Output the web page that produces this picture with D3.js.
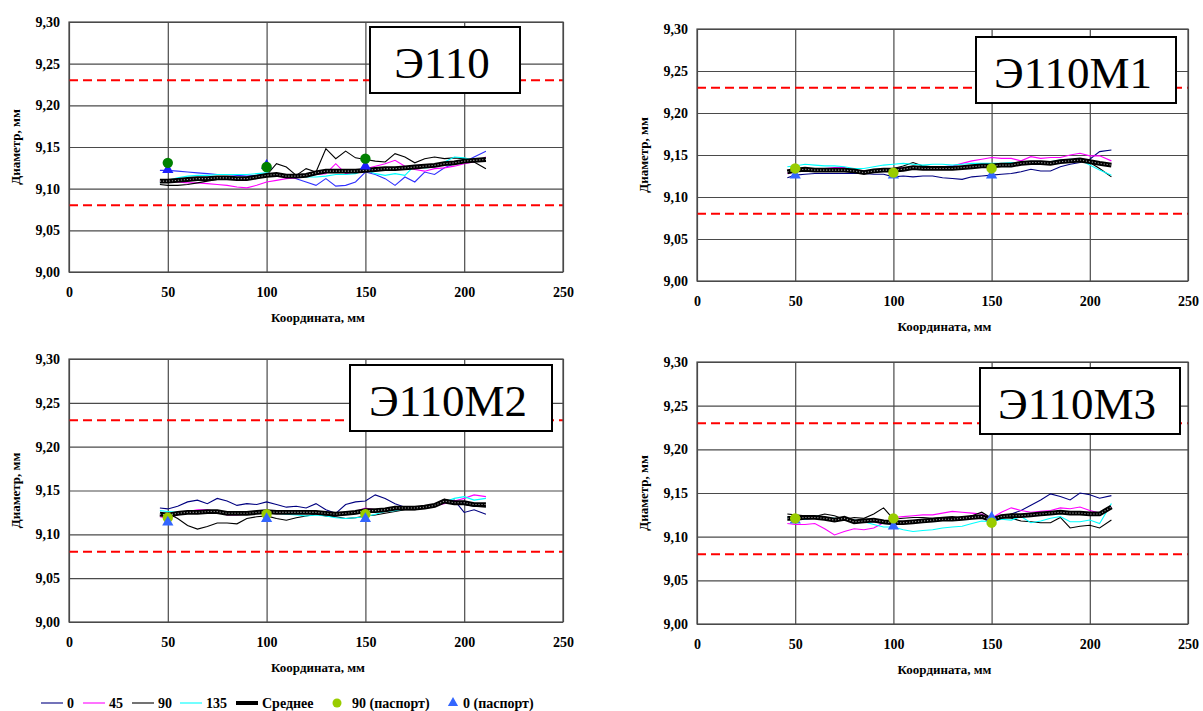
<html><head><meta charset="UTF-8"><script src="https://d3js.org/d3.v7.min.js"></script>
<style>
  svg text { font-family: 'Liberation Serif', 'Times New Roman', serif !important; }
</style>
</head>
<body style="margin:0">
<script>
// координаты, мм
const X = [46, 50, 55, 60, 65, 70, 75, 80, 85, 90, 95, 100, 105, 110, 115, 120, 125, 130,
           135, 140, 145, 150, 155, 160, 165, 170, 175, 180, 185, 190, 195, 200, 205, 211];
const X_TICKS = [0, 50, 100, 150, 200, 250];
const Y_TICKS = [9.00, 9.05, 9.10, 9.15, 9.20, 9.25, 9.30];
const LIMITS = [9.08, 9.23];
const PASS_X = [50, 100, 150];
const SERIES_NAMES = ["0", "45", "90", "135", "Среднее", "90 (паспорт)", "0 (паспорт)"];
const PANEL_NAMES = ["Э110", "Э110М1", "Э110М2", "Э110М3"];

// Э110
const e110_0 = [9.122, 9.122, 9.121, 9.120, 9.119, 9.118, 9.117, 9.117, 9.116, 9.115, 9.116, 9.118, 9.117, 9.116, 9.112, 9.108, 9.104, 9.112, 9.103, 9.104, 9.108, 9.120, 9.117, 9.112, 9.104, 9.114, 9.108, 9.120, 9.117, 9.125, 9.130, 9.132, 9.138, 9.145];
const e110_45 = [9.109, 9.109, 9.108, 9.107, 9.107, 9.106, 9.105, 9.104, 9.102, 9.101, 9.104, 9.108, 9.110, 9.112, 9.113, 9.115, 9.117, 9.118, 9.130, 9.118, 9.120, 9.124, 9.127, 9.130, 9.134, 9.127, 9.123, 9.121, 9.124, 9.125, 9.127, 9.130, 9.132, 9.138];
const e110_90 = [9.105, 9.104, 9.104, 9.105, 9.107, 9.109, 9.111, 9.112, 9.112, 9.113, 9.114, 9.116, 9.130, 9.126, 9.116, 9.124, 9.120, 9.148, 9.136, 9.145, 9.137, 9.135, 9.133, 9.132, 9.142, 9.138, 9.131, 9.136, 9.138, 9.136, 9.137, 9.136, 9.132, 9.124];
const e110_135 = [9.107, 9.110, 9.113, 9.115, 9.116, 9.116, 9.117, 9.117, 9.117, 9.117, 9.118, 9.119, 9.117, 9.115, 9.114, 9.114, 9.114, 9.115, 9.117, 9.117, 9.118, 9.122, 9.118, 9.116, 9.118, 9.116, 9.128, 9.125, 9.126, 9.132, 9.138, 9.137, 9.134, 9.136];
const e110_mean = [9.109, 9.109, 9.110, 9.111, 9.112, 9.112, 9.113, 9.113, 9.112, 9.112, 9.114, 9.116, 9.117, 9.115, 9.115, 9.116, 9.119, 9.121, 9.121, 9.121, 9.121, 9.122, 9.123, 9.124, 9.124, 9.125, 9.126, 9.127, 9.128, 9.130, 9.131, 9.133, 9.134, 9.135];
const e110_p90 = [9.131, 9.126, 9.136];
const e110_p0 = [9.124, 9.129, 9.128];

// Э110М1
const m1_0 = [9.123, 9.126, 9.127, 9.128, 9.128, 9.128, 9.128, 9.128, 9.128, 9.127, 9.127, 9.124, 9.125, 9.124, 9.125, 9.125, 9.123, 9.122, 9.121, 9.124, 9.125, 9.126, 9.127, 9.128, 9.130, 9.133, 9.131, 9.131, 9.136, 9.139, 9.141, 9.145, 9.154, 9.156];
const m1_45 = [9.128, 9.130, 9.132, 9.133, 9.134, 9.135, 9.135, 9.131, 9.131, 9.132, 9.133, 9.134, 9.135, 9.135, 9.136, 9.136, 9.136, 9.137, 9.140, 9.143, 9.145, 9.147, 9.146, 9.146, 9.143, 9.148, 9.146, 9.147, 9.147, 9.150, 9.152, 9.149, 9.149, 9.143];
const m1_90 = [9.131, 9.132, 9.133, 9.133, 9.132, 9.132, 9.131, 9.130, 9.130, 9.132, 9.133, 9.134, 9.137, 9.141, 9.137, 9.136, 9.135, 9.134, 9.136, 9.137, 9.138, 9.137, 9.138, 9.139, 9.140, 9.141, 9.141, 9.140, 9.142, 9.144, 9.143, 9.141, 9.134, 9.124];
const m1_135 = [9.136, 9.137, 9.139, 9.138, 9.137, 9.137, 9.136, 9.134, 9.134, 9.136, 9.138, 9.139, 9.140, 9.139, 9.138, 9.139, 9.139, 9.138, 9.139, 9.140, 9.140, 9.140, 9.140, 9.141, 9.141, 9.142, 9.142, 9.142, 9.144, 9.145, 9.144, 9.138, 9.132, 9.126];
const m1_mean = [9.130, 9.132, 9.133, 9.132, 9.132, 9.132, 9.132, 9.131, 9.129, 9.131, 9.132, 9.132, 9.133, 9.135, 9.134, 9.134, 9.134, 9.134, 9.135, 9.136, 9.137, 9.137, 9.138, 9.138, 9.140, 9.141, 9.141, 9.140, 9.142, 9.143, 9.144, 9.142, 9.140, 9.138];
const m1_p90 = [9.134, 9.129, 9.134];
const m1_p0 = [9.127, 9.127, 9.127];

// Э110М2
const m2_0 = [9.130, 9.129, 9.132, 9.137, 9.139, 9.135, 9.141, 9.138, 9.133, 9.135, 9.134, 9.137, 9.134, 9.131, 9.132, 9.130, 9.135, 9.128, 9.124, 9.134, 9.137, 9.138, 9.145, 9.141, 9.135, 9.131, 9.130, 9.132, 9.134, 9.137, 9.139, 9.125, 9.128, 9.123];
const m2_45 = [9.120, 9.118, 9.122, 9.126, 9.128, 9.128, 9.126, 9.122, 9.122, 9.123, 9.124, 9.124, 9.125, 9.126, 9.126, 9.124, 9.123, 9.122, 9.121, 9.123, 9.126, 9.130, 9.128, 9.127, 9.128, 9.129, 9.130, 9.131, 9.133, 9.135, 9.138, 9.141, 9.145, 9.143];
const m2_90 = [9.124, 9.124, 9.118, 9.110, 9.106, 9.109, 9.113, 9.113, 9.112, 9.118, 9.120, 9.121, 9.118, 9.116, 9.119, 9.121, 9.123, 9.121, 9.120, 9.118, 9.119, 9.121, 9.122, 9.124, 9.126, 9.128, 9.128, 9.130, 9.134, 9.140, 9.137, 9.134, 9.132, 9.131];
const m2_135 = [9.127, 9.126, 9.125, 9.124, 9.125, 9.125, 9.126, 9.125, 9.124, 9.124, 9.125, 9.126, 9.124, 9.123, 9.122, 9.121, 9.122, 9.121, 9.119, 9.118, 9.119, 9.120, 9.123, 9.126, 9.127, 9.129, 9.130, 9.131, 9.133, 9.137, 9.141, 9.143, 9.139, 9.141];
const m2_mean = [9.123, 9.122, 9.124, 9.125, 9.125, 9.126, 9.126, 9.124, 9.124, 9.124, 9.125, 9.126, 9.125, 9.125, 9.125, 9.125, 9.125, 9.124, 9.123, 9.124, 9.125, 9.127, 9.127, 9.128, 9.130, 9.130, 9.130, 9.131, 9.133, 9.138, 9.136, 9.136, 9.134, 9.134];
const m2_p90 = [9.119, 9.123, 9.123];
const m2_p0 = [9.115, 9.119, 9.119];

// Э110М3
const m3_0 = [9.121, 9.120, 9.120, 9.121, 9.120, 9.119, 9.120, 9.118, 9.117, 9.117, 9.115, 9.114, 9.117, 9.118, 9.119, 9.120, 9.120, 9.121, 9.121, 9.122, 9.122, 9.121, 9.122, 9.126, 9.130, 9.136, 9.142, 9.149, 9.146, 9.142, 9.150, 9.148, 9.144, 9.147];
const m3_45 = [9.115, 9.114, 9.114, 9.115, 9.109, 9.102, 9.106, 9.109, 9.108, 9.110, 9.116, 9.122, 9.123, 9.124, 9.125, 9.125, 9.127, 9.129, 9.128, 9.127, 9.126, 9.121, 9.128, 9.133, 9.130, 9.128, 9.129, 9.130, 9.133, 9.132, 9.134, 9.130, 9.127, 9.134];
const m3_90 = [9.126, 9.125, 9.124, 9.123, 9.126, 9.124, 9.120, 9.122, 9.121, 9.126, 9.133, 9.120, 9.121, 9.122, 9.122, 9.121, 9.122, 9.123, 9.121, 9.124, 9.128, 9.121, 9.122, 9.121, 9.118, 9.117, 9.116, 9.116, 9.122, 9.110, 9.112, 9.113, 9.110, 9.119];
const m3_135 = [9.122, 9.120, 9.120, 9.124, 9.122, 9.121, 9.120, 9.119, 9.117, 9.114, 9.111, 9.111, 9.108, 9.106, 9.107, 9.108, 9.110, 9.111, 9.112, 9.115, 9.118, 9.117, 9.120, 9.119, 9.123, 9.116, 9.118, 9.121, 9.123, 9.117, 9.117, 9.119, 9.115, 9.138];
const m3_mean = [9.121, 9.121, 9.122, 9.122, 9.121, 9.119, 9.121, 9.117, 9.118, 9.119, 9.117, 9.116, 9.116, 9.117, 9.118, 9.119, 9.120, 9.120, 9.121, 9.122, 9.123, 9.119, 9.123, 9.124, 9.124, 9.125, 9.126, 9.127, 9.128, 9.127, 9.127, 9.126, 9.126, 9.134];
const m3_p90 = [9.121, 9.121, 9.116];
const m3_p0 = [9.120, 9.113, 9.123];

const W = 1203, H = 711;
const FONT = "'Liberation Serif', 'Times New Roman', serif";
const svg = d3.select("body").append("svg").attr("width", W).attr("height", H)
  .style("font-family", FONT);

// layout of the four panels (pixels)
const panels = [
  { name: PANEL_NAMES[0], series: [e110_0, e110_45, e110_90, e110_135, e110_mean], p90: e110_p90, p0: e110_p0,
    left: 69, right: 563, top: 22, bottom: 272, box: [301, 5, 150, 66],
    c0: "#3030ff", cP90: "#008000", cP0: "#1e1eff", triOnTop: false },
  { name: PANEL_NAMES[1], series: [m1_0, m1_45, m1_90, m1_135, m1_mean], p90: m1_p90, p0: m1_p0,
    left: 697, right: 1188, top: 29, bottom: 281, box: [279, 8, 200, 66],
    c0: "#000080", cP90: "#99cc00", cP0: "#3366ff", triOnTop: false },
  { name: PANEL_NAMES[2], series: [m2_0, m2_45, m2_90, m2_135, m2_mean], p90: m2_p90, p0: m2_p0,
    left: 69, right: 563, top: 359, bottom: 622, box: [281, 6, 202, 66],
    c0: "#000080", cP90: "#99cc00", cP0: "#3366ff", triOnTop: true },
  { name: PANEL_NAMES[3], series: [m3_0, m3_45, m3_90, m3_135, m3_mean], p90: m3_p90, p0: m3_p0,
    left: 697, right: 1188, top: 362, bottom: 624, box: [283, 6, 200, 66],
    c0: "#000080", cP90: "#99cc00", cP0: "#3366ff", triOnTop: false }
];

const fmtY = d => d3.format(".2f")(d).replace(".", ",");

function labelStyle(sel) {
  sel.style("font-family", FONT).style("font-weight", "bold").style("font-size", "14px").attr("fill", "#000");
}

panels.forEach(p => {
  const x = d3.scaleLinear().domain([0, 250]).range([p.left, p.right]);
  const y = d3.scaleLinear().domain([9.0, 9.3]).range([p.bottom, p.top]);
  const g = svg.append("g");

  // grid
  g.append("g").attr("transform", `translate(0,${p.bottom})`)
    .call(d3.axisBottom(x).tickValues(X_TICKS).tickSize(-(p.bottom - p.top)).tickFormat(""))
    .call(s => s.select(".domain").remove())
    .selectAll("line").attr("stroke", "#4a4a4a").attr("stroke-width", 1.2);
  g.append("g").attr("transform", `translate(${p.left},0)`)
    .call(d3.axisLeft(y).tickValues(Y_TICKS).tickSize(-(p.right - p.left)).tickFormat(""))
    .call(s => s.select(".domain").remove())
    .selectAll("line").attr("stroke", "#4a4a4a").attr("stroke-width", 1.2);

  // tick labels
  g.append("g").attr("transform", `translate(0,${p.bottom})`)
    .call(d3.axisBottom(x).tickValues(X_TICKS).tickSize(0).tickPadding(15).tickFormat(d3.format("d")))
    .call(s => s.select(".domain").remove())
    .selectAll("text").call(labelStyle);
  g.append("g").attr("transform", `translate(${p.left},0)`)
    .call(d3.axisLeft(y).tickValues(Y_TICKS).tickSize(0).tickPadding(9).tickFormat(fmtY))
    .call(s => s.select(".domain").remove())
    .selectAll("text").call(labelStyle);

  // axis titles
  g.append("text").call(labelStyle).style("font-size", "13px")
    .attr("x", (p.left + p.right) / 2 + 2).attr("y", p.bottom + 50)
    .attr("text-anchor", "middle").text("Координата, мм");
  g.append("text").call(labelStyle).style("font-size", "13px")
    .attr("transform", `translate(${p.left - 49},${(p.top + p.bottom) / 2}) rotate(-90)`)
    .attr("text-anchor", "middle").text("Диаметр, мм");

  // tolerance limits
  g.selectAll(".lim").data(LIMITS).join("line")
    .attr("x1", p.left).attr("x2", p.right)
    .attr("y1", d => y(d)).attr("y2", d => y(d))
    .attr("stroke", "#ff0000").attr("stroke-width", 2).attr("stroke-dasharray", "9,5");

  // name box
  const [bx, by, bw, bh] = p.box;
  g.append("rect").attr("x", p.left + bx).attr("y", p.top + by)
    .attr("width", bw).attr("height", bh)
    .attr("fill", "#fff").attr("stroke", "#000").attr("stroke-width", 2);
  g.append("text").attr("x", p.left + bx + bw / 2 - 3).attr("y", p.top + by + 51)
    .attr("text-anchor", "middle").style("font-family", FONT).style("font-size", "45px")
    .text(p.name);

  // series
  const line = d3.line().x((d, i) => x(X[i])).y(d => y(d));
  const colors = [p.c0, "#ff00ff", "#000000", "#00ffff"];
  p.series.slice(0, 4).forEach((s, k) => {
    g.append("path").datum(s).attr("d", line)
      .attr("fill", "none").attr("stroke", colors[k]).attr("stroke-width", 1.1);
  });
  g.append("path").datum(p.series[4]).attr("d", line)
    .attr("fill", "none").attr("stroke", "#000").attr("stroke-width", 4.8);
  g.append("path").datum(p.series[4]).attr("d", line)
    .attr("fill", "none").attr("stroke", "#9a9a9a").attr("stroke-width", 1.1)
    .attr("stroke-dasharray", "1.2,1.8");

  const tri = d3.symbol().type(d3.symbolTriangle).size(55);
  const drawTri = () => g.selectAll(null).data(p.p0).join("path")
    .attr("d", tri).attr("transform", (d, i) => `translate(${x(PASS_X[i])},${y(d) + 1})`)
    .attr("fill", p.cP0);
  const drawCirc = () => g.selectAll(null).data(p.p90).join("circle")
    .attr("cx", (d, i) => x(PASS_X[i])).attr("cy", d => y(d)).attr("r", 5.2)
    .attr("fill", p.cP90);
  if (p.triOnTop) { drawCirc(); drawTri(); } else { drawTri(); drawCirc(); }

  // plot border
  g.append("rect").attr("x", p.left).attr("y", p.top)
    .attr("width", p.right - p.left).attr("height", p.bottom - p.top)
    .attr("fill", "none").attr("stroke", "#4a4a4a").attr("stroke-width", 1.2);
});

// legend
const lg = svg.append("g");
const ly = 703;
const legendItems = [
  { type: "line", color: "#000080", w: 1.1, x: 41, label: SERIES_NAMES[0] },
  { type: "line", color: "#ff00ff", w: 1.1, x: 83, label: SERIES_NAMES[1] },
  { type: "line", color: "#000000", w: 1.1, x: 132, label: SERIES_NAMES[2] },
  { type: "line", color: "#00ffff", w: 1.1, x: 180, label: SERIES_NAMES[3] },
  { type: "line", color: "#000000", w: 4, x: 236, label: SERIES_NAMES[4] },
  { type: "circle", color: "#99cc00", x: 337, label: SERIES_NAMES[5] },
  { type: "tri", color: "#3366ff", x: 453, label: SERIES_NAMES[6] }
];
legendItems.forEach(it => {
  let tx;
  if (it.type === "line") {
    lg.append("line").attr("x1", it.x).attr("x2", it.x + 22).attr("y1", ly).attr("y2", ly)
      .attr("stroke", it.color).attr("stroke-width", it.w);
    tx = it.x + 26;
  } else if (it.type === "circle") {
    lg.append("circle").attr("cx", it.x).attr("cy", ly).attr("r", 4.5).attr("fill", it.color);
    tx = it.x + 15;
  } else {
    lg.append("path").attr("d", d3.symbol().type(d3.symbolTriangle).size(45))
      .attr("transform", `translate(${it.x},${ly})`).attr("fill", it.color);
    tx = it.x + 10;
  }
  lg.append("text").call(labelStyle).attr("x", tx).attr("y", ly + 5).text(it.label);
});
</script>
</body>
</html>
